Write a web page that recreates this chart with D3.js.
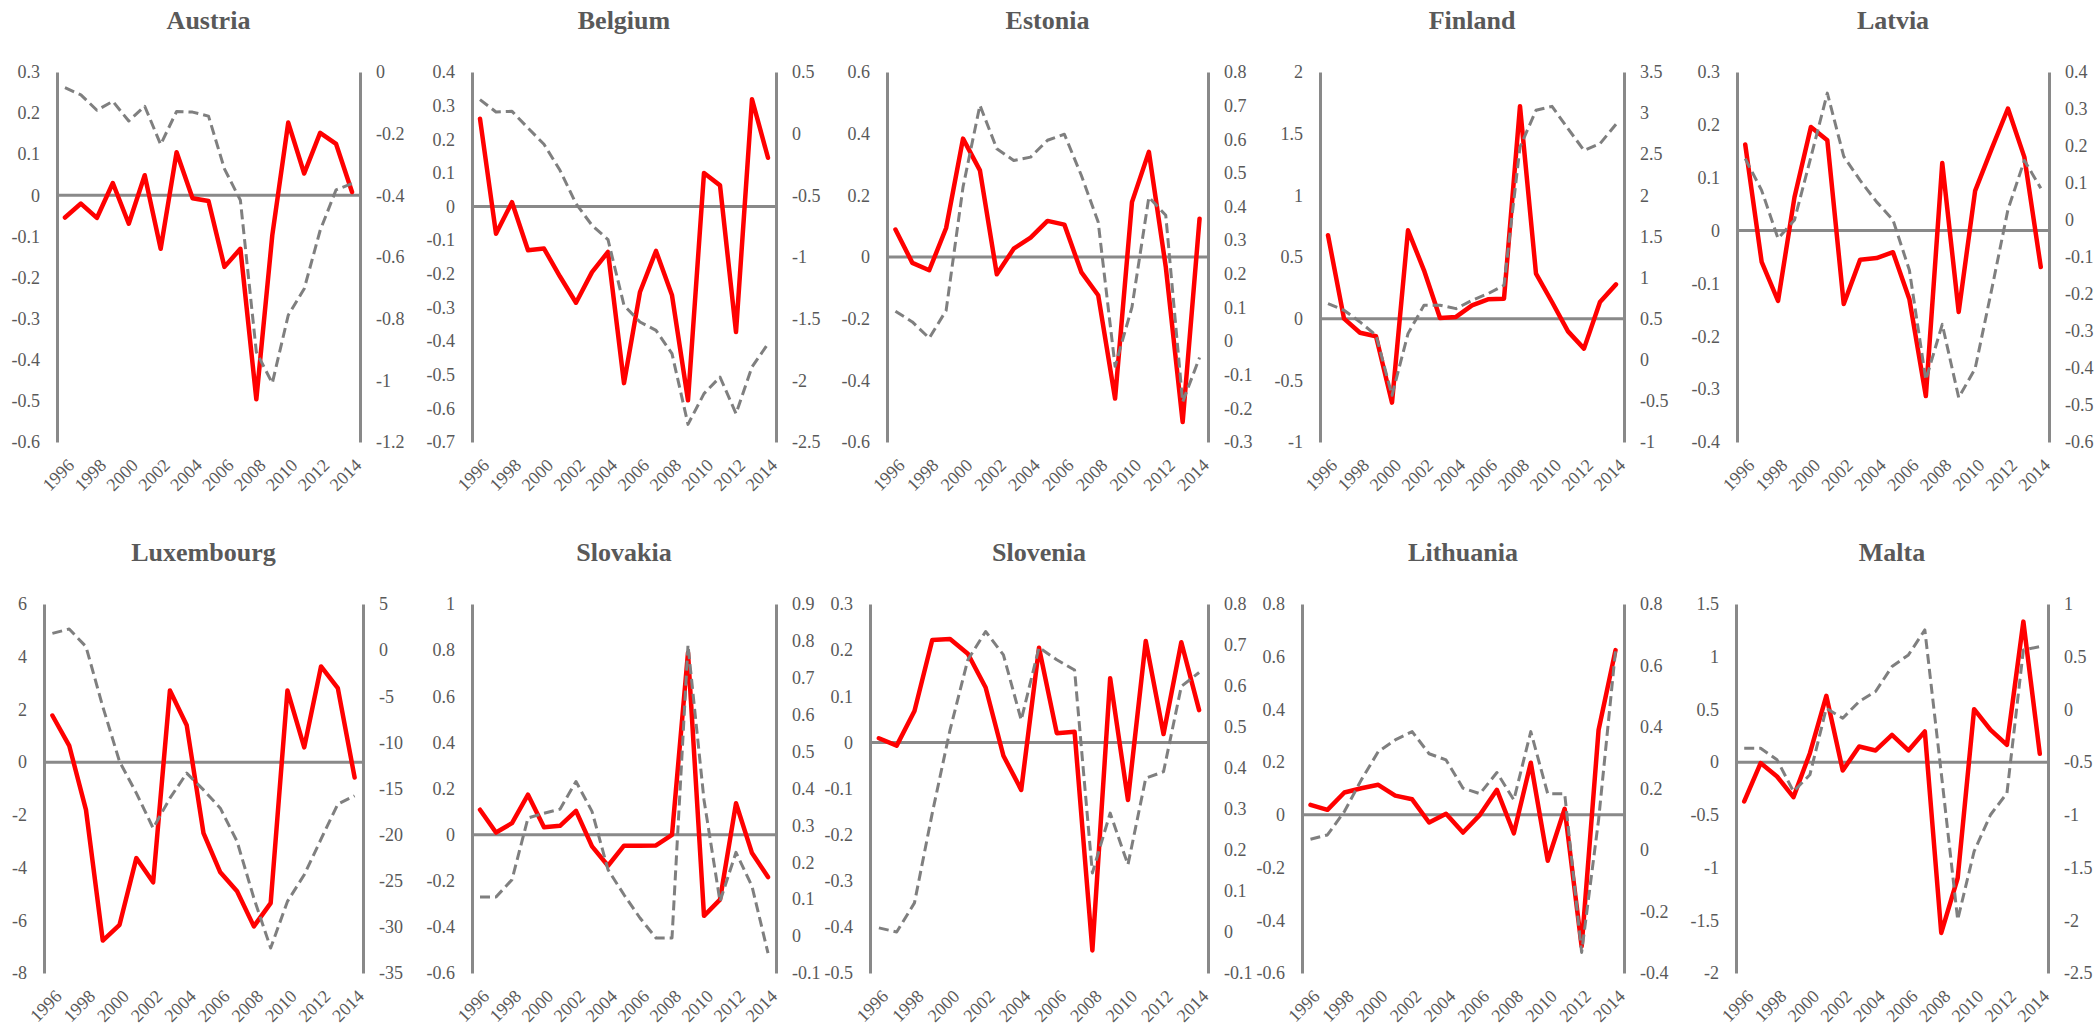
<!DOCTYPE html>
<html>
<head>
<meta charset="utf-8">
<script src="https://cdn.jsdelivr.net/npm/d3@7"></script>
<style>
  body { margin: 0; background: #ffffff; }
  svg { display: block; }
</style>
</head>
<body>
<svg id="chart" width="2097" height="1027"></svg>
<script>
// Years on the category axis
const years = [1996, 1997, 1998, 1999, 2000, 2001, 2002, 2003, 2004, 2005,
               2006, 2007, 2008, 2009, 2010, 2011, 2012, 2013, 2014];
// Only every second year is labelled
const yearLabels = [1996, 1998, 2000, 2002, 2004, 2006, 2008, 2010, 2012, 2014];

const countries = ["Austria", "Belgium", "Estonia", "Finland", "Latvia",
                   "Luxembourg", "Slovakia", "Slovenia", "Lithuania", "Malta"];

// Solid red series (left axis) and dashed grey series (right axis)
const austriaRed   = [-0.054, -0.02, -0.055, 0.03, -0.069, 0.049, -0.13, 0.105, -0.007, -0.014, -0.174, -0.13, -0.496, -0.097, 0.177, 0.053, 0.152, 0.125, 0.008];
const austriaGray  = [-0.051, -0.074, -0.124, -0.095, -0.159, -0.111, -0.235, -0.128, -0.13, -0.143, -0.314, -0.416, -0.908, -1.009, -0.789, -0.703, -0.514, -0.382, -0.362];
const belgiumRed   = [0.261, -0.081, 0.013, -0.13, -0.125, -0.208, -0.286, -0.195, -0.135, -0.525, -0.254, -0.132, -0.264, -0.576, 0.1, 0.063, -0.373, 0.319, 0.145];
const belgiumGray  = [0.276, 0.176, 0.181, 0.046, -0.086, -0.297, -0.568, -0.743, -0.859, -1.392, -1.527, -1.595, -1.784, -2.357, -2.108, -1.973, -2.27, -1.892, -1.703];
const estoniaRed   = [0.089, -0.019, -0.043, 0.094, 0.384, 0.281, -0.056, 0.027, 0.063, 0.117, 0.105, -0.049, -0.124, -0.459, 0.178, 0.341, -0.032, -0.535, 0.124];
const estoniaGray  = [0.089, 0.057, 0.009, 0.091, 0.458, 0.701, 0.572, 0.537, 0.547, 0.597, 0.615, 0.493, 0.354, -0.075, 0.101, 0.428, 0.374, -0.181, -0.049];
const finlandRed   = [0.676, 0.0, -0.114, -0.143, -0.681, 0.716, 0.392, 0.005, 0.014, 0.108, 0.157, 0.162, 1.722, 0.365, 0.135, -0.103, -0.243, 0.135, 0.278];
const finlandGray  = [0.683, 0.602, 0.46, 0.298, -0.432, 0.318, 0.663, 0.663, 0.622, 0.723, 0.804, 0.906, 2.588, 3.034, 3.082, 2.811, 2.547, 2.628, 2.864];
const latviaRed    = [0.163, -0.059, -0.133, 0.063, 0.196, 0.171, -0.139, -0.055, -0.052, -0.041, -0.13, -0.313, 0.128, -0.154, 0.075, 0.154, 0.231, 0.139, -0.069];
const latviaGray   = [0.166, 0.08, -0.05, 0.0, 0.17, 0.343, 0.172, 0.107, 0.049, 0.0, -0.136, -0.432, -0.282, -0.48, -0.402, -0.19, 0.028, 0.161, 0.086];
const luxembourgRed  = [1.77, 0.63, -1.81, -6.77, -6.17, -3.64, -4.56, 2.72, 1.40, -2.69, -4.18, -4.90, -6.23, -5.35, 2.72, 0.56, 3.63, 2.81, -0.58];
const luxembourgGray = [1.82, 2.29, 0.38, -6.12, -12.08, -15.5, -19.3, -16.05, -13.34, -15.15, -17.13, -20.74, -26.88, -32.29, -27.24, -24.35, -20.49, -16.70, -15.79];
const slovakiaRed  = [0.108, 0.009, 0.05, 0.173, 0.032, 0.038, 0.103, -0.051, -0.135, -0.048, -0.048, -0.047, -0.001, 0.789, -0.352, -0.282, 0.136, -0.08, -0.184];
const slovakiaGray = [0.106, 0.106, 0.153, 0.32, 0.333, 0.344, 0.419, 0.338, 0.18, 0.112, 0.049, -0.005, -0.005, 0.789, 0.369, 0.094, 0.227, 0.135, -0.046];
const sloveniaRed  = [0.009, -0.007, 0.068, 0.222, 0.224, 0.192, 0.119, -0.029, -0.103, 0.205, 0.02, 0.023, -0.451, 0.139, -0.125, 0.22, 0.018, 0.217, 0.07];
const sloveniaGray = [0.01, 0.0, 0.071, 0.29, 0.493, 0.664, 0.733, 0.676, 0.517, 0.694, 0.664, 0.639, 0.144, 0.29, 0.164, 0.375, 0.391, 0.599, 0.633];
const lithuaniaRed  = [0.038, 0.019, 0.085, 0.101, 0.114, 0.073, 0.059, -0.029, 0.004, -0.067, 0.0, 0.095, -0.07, 0.198, -0.174, 0.023, -0.499, 0.322, 0.625];
const lithuaniaGray = [0.035, 0.049, 0.125, 0.228, 0.32, 0.358, 0.385, 0.313, 0.293, 0.201, 0.183, 0.252, 0.163, 0.385, 0.183, 0.183, -0.333, 0.098, 0.648];
const maltaRed     = [-0.373, -0.009, -0.136, -0.332, 0.085, 0.629, -0.079, 0.148, 0.111, 0.259, 0.111, 0.291, -1.62, -1.099, 0.502, 0.306, 0.164, 1.333, 0.079];
const maltaGray    = [-0.368, -0.368, -0.478, -0.778, -0.62, 0.011, -0.083, 0.075, 0.17, 0.407, 0.517, 0.754, -0.604, -1.994, -1.347, -0.999, -0.794, 0.564, 0.596];

// Axis tick ranges: [min, max, step]
const leftAxisTicks  = [[-0.6, 0.3, 0.1], [-0.7, 0.4, 0.1], [-0.6, 0.6, 0.2], [-1, 2, 0.5], [-0.4, 0.3, 0.1],
                        [-8, 6, 2], [-0.6, 1, 0.2], [-0.5, 0.3, 0.1], [-0.6, 0.8, 0.2], [-2, 1.5, 0.5]];
const rightAxisTicks = [[-1.2, 0, 0.2], [-2.5, 0.5, 0.5], [-0.3, 0.8, 0.1], [-1, 3.5, 0.5], [-0.6, 0.4, 0.1],
                        [-35, 5, 5], [-0.1, 0.9, 0.1], [-0.1, 0.8, 0.1], [-0.4, 0.8, 0.2], [-2.5, 1, 0.5]];

const redSeries  = [austriaRed, belgiumRed, estoniaRed, finlandRed, latviaRed,
                    luxembourgRed, slovakiaRed, sloveniaRed, lithuaniaRed, maltaRed];
const graySeries = [austriaGray, belgiumGray, estoniaGray, finlandGray, latviaGray,
                    luxembourgGray, slovakiaGray, sloveniaGray, lithuaniaGray, maltaGray];

// Plot frame of each panel: left and right axis x positions
const panelFrames = [[57, 360], [472, 776], [887, 1208], [1320, 1624], [1737, 2049],
                     [44, 363], [472, 776], [870, 1208], [1302, 1624], [1736, 2048]];
// Row geometry: plot top, plot bottom, title baseline
const rowFrames = [[72, 442, 29], [604, 973, 561]];

const AXIS_GREY = "#898989";
const TEXT_GREY = "#595959";
const TICK_FONT = "'Liberation Serif', 'DejaVu Serif', serif";

const fmt = v => String(+v.toFixed(2));
const tickList = ([min, max, step]) => {
  const n = Math.round((max - min) / step);
  return d3.range(n + 1).map(i => +(min + i * step).toFixed(4));
};

const svg = d3.select("#chart");

countries.forEach((name, i) => {
  const [L, R] = panelFrames[i];
  const [top, bottom, titleY] = rowFrames[i < 5 ? 0 : 1];
  const lt = leftAxisTicks[i], rt = rightAxisTicks[i];

  const x = d3.scalePoint().domain(years).range([L, R]).padding(0.5);
  const yL = d3.scaleLinear().domain([lt[0], lt[1]]).range([bottom, top]);
  const yR = d3.scaleLinear().domain([rt[0], rt[1]]).range([bottom, top]);

  const g = svg.append("g").attr("class", "panel");

  // Title
  g.append("text")
    .attr("x", (L + R) / 2).attr("y", titleY)
    .attr("text-anchor", "middle")
    .attr("font-family", TICK_FONT)
    .attr("font-weight", "bold")
    .attr("font-size", 26)
    .attr("fill", TEXT_GREY)
    .text(name);

  // Left value axis
  const axL = g.append("g").attr("transform", `translate(${L},0)`)
    .call(d3.axisLeft(yL).tickValues(tickList(lt)).tickSize(0).tickSizeOuter(0).tickPadding(17).tickFormat(fmt));
  // Right value axis
  const axR = g.append("g").attr("transform", `translate(${R},0)`)
    .call(d3.axisRight(yR).tickValues(tickList(rt)).tickSize(0).tickSizeOuter(0).tickPadding(16).tickFormat(fmt));

  [axL, axR].forEach(ax => {
    ax.select(".domain").attr("stroke", AXIS_GREY).attr("stroke-width", 3);
    ax.selectAll("text")
      .attr("font-family", TICK_FONT)
      .attr("font-size", 18)
      .attr("fill", TEXT_GREY);
  });

  // Zero line of the left axis
  g.append("line")
    .attr("x1", L).attr("x2", R)
    .attr("y1", yL(0)).attr("y2", yL(0))
    .attr("stroke", AXIS_GREY).attr("stroke-width", 3);

  // Year labels, rotated
  g.selectAll("text.year").data(yearLabels).enter().append("text")
    .attr("class", "year")
    .attr("transform", d => `translate(${x(d) + 6},${bottom + 20}) rotate(-45)`)
    .attr("text-anchor", "end")
    .attr("dy", "0.35em")
    .attr("font-family", TICK_FONT)
    .attr("font-size", 18)
    .attr("fill", TEXT_GREY)
    .text(d => d);

  // Red solid line on the left axis
  const redLine = d3.line().x((d, k) => x(years[k])).y(d => yL(d));
  g.append("path")
    .datum(redSeries[i])
    .attr("d", redLine)
    .attr("fill", "none")
    .attr("stroke", "#ff0000")
    .attr("stroke-width", 4.5)
    .attr("stroke-linejoin", "round")
    .attr("stroke-linecap", "round");

  // Grey dashed line on the right axis
  const grayLine = d3.line().x((d, k) => x(years[k])).y(d => yR(d));
  g.append("path")
    .datum(graySeries[i])
    .attr("d", grayLine)
    .attr("fill", "none")
    .attr("stroke", "#7f7f7f")
    .attr("stroke-width", 3)
    .attr("stroke-dasharray", "10,5")
    .attr("stroke-linejoin", "round");
});
</script>
</body>
</html>
